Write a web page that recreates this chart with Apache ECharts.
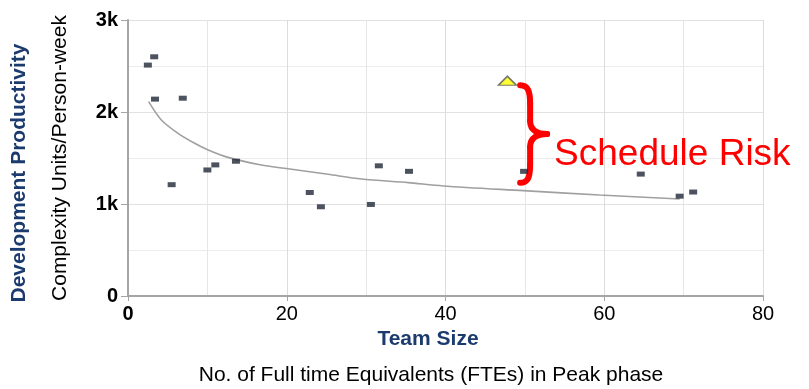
<!DOCTYPE html>
<html>
<head>
<meta charset="utf-8">
<script src="https://cdn.jsdelivr.net/npm/echarts@6/dist/echarts.min.js"></script>
<style>
html,body{margin:0;padding:0;background:#fff;}
#chart{width:809px;height:389px;}
</style>
</head>
<body>
<div id="chart"></div>
<script>
// Observed projects: team size (FTEs) vs productivity
const teamSize = [2.5, 3.3, 3.4, 6.9, 5.5, 10.0, 11.0, 13.6, 22.9, 24.3, 30.6, 31.6, 35.4, 49.9, 64.6, 69.5, 71.2];
const productivity = [2510, 2600, 2140, 2150, 1210, 1370, 1425, 1465, 1125, 970, 995, 1415, 1355, 1355, 1325, 1085, 1130];
// Planned project (yellow triangle)
const plannedX = [47.8];
const plannedY = [2340];
// Trend curve
const trendX = [2.6, 4.2, 6.3, 8.4, 10.1, 12.6, 16.8, 19.7, 25.2, 29.4, 35.3, 39.7, 49.8, 59.4, 69.5];
const trendY = [2112, 1913, 1768, 1660, 1587, 1507, 1424, 1388, 1323, 1272, 1232, 1196, 1145, 1098, 1055];
// Brace span (data coords)
const braceX = 49.4;
const braceTop = 2290;
const braceBottom = 1230;
// Tick labels
const xTickLabels = {0: '{b|0}', 20: '20', 40: '40', 60: '60', 80: '80'};
const yTickLabels = {0: '0', 1000: '1k', 2000: '2k', 3000: '3k'};

const navy = '#1b3a6e';
const chart = echarts.init(document.getElementById('chart'));
const font = 'Liberation Sans, Arial, sans-serif';

chart.setOption({
  animation: false,
  grid: {left: 128, right: 46, top: 20, bottom: 93},
  xAxis: {
    type: 'value', min: 0, max: 80, interval: 20,
    axisLine: {show: true, lineStyle: {color: '#a5a5a5', width: 2}},
    axisTick: {show: true, length: 5, lineStyle: {color: '#a5a5a5'}},
    axisLabel: {
      color: '#000', fontSize: 20, fontFamily: font, margin: 8,
      formatter: v => xTickLabels[v] !== undefined ? xTickLabels[v] : '',
      rich: {b: {fontWeight: 'bold', fontSize: 20, fontFamily: font, color: '#000'}}
    },
    splitLine: {show: true, lineStyle: {color: '#dcdcdc', width: 1}},
    minorTick: {show: false, splitNumber: 2},
    minorSplitLine: {show: true, lineStyle: {color: '#e6e6e6', width: 1}}
  },
  yAxis: {
    type: 'value', min: 0, max: 3000, interval: 1000,
    axisLine: {show: true, lineStyle: {color: '#a5a5a5', width: 2}},
    axisTick: {show: true, length: 7, lineStyle: {color: '#a5a5a5'}},
    axisLabel: {
      color: '#000', fontSize: 20, fontWeight: 'bold', fontFamily: font, margin: 10,
      formatter: v => yTickLabels[v] !== undefined ? yTickLabels[v] : ''
    },
    splitLine: {show: true, lineStyle: {color: '#e2e2e2', width: 1}},
    minorTick: {show: false, splitNumber: 2},
    minorSplitLine: {show: true, lineStyle: {color: '#ececec', width: 1}}
  },
  series: [
    {
      type: 'line', data: trendX.map((x, i) => [x, trendY[i]]),
      smooth: 0.3, symbol: 'none', silent: true,
      lineStyle: {color: '#a0a0a0', width: 1.6}, z: 2
    },
    {
      type: 'scatter', data: teamSize.map((x, i) => [x, productivity[i]]),
      symbol: 'rect', symbolSize: [8, 5],
      itemStyle: {color: '#1f2836'}, z: 3
    },
    {
      type: 'scatter', data: plannedX.map((x, i) => [x, plannedY[i]]),
      symbol: 'triangle', symbolSize: [18, 9],
      itemStyle: {color: '#ffff00', borderColor: '#595959', borderWidth: 1.5}, z: 4
    }
  ]
});

const topPx = chart.convertToPixel({gridIndex: 0}, [braceX, braceTop]);
const botPx = chart.convertToPixel({gridIndex: 0}, [braceX, braceBottom]);
const x0 = topPx[0], t = topPx[1], b = botPx[1], m = (t + b) / 2;
const red = '#ff0000';
const bs = {stroke: red, lineWidth: 6, fill: null, lineCap: 'round'};
const s = 10, tip = 27;

chart.setOption({
  graphic: [
    {type: 'bezierCurve', shape: {x1: x0, y1: t, cpx1: x0 + 8, cpy1: t, cpx2: x0 + s, cpy2: t + 6, x2: x0 + s, y2: t + 18}, style: bs},
    {type: 'line', shape: {x1: x0 + s, y1: t + 18, x2: x0 + s, y2: m - 13}, style: bs},
    {type: 'bezierCurve', shape: {x1: x0 + s, y1: m - 13, cpx1: x0 + s, cpy1: m - 3, cpx2: x0 + 18, cpy2: m, x2: x0 + tip, y2: m}, style: bs},
    {type: 'bezierCurve', shape: {x1: x0 + tip, y1: m, cpx1: x0 + 18, cpy1: m, cpx2: x0 + s, cpy2: m + 3, x2: x0 + s, y2: m + 13}, style: bs},
    {type: 'line', shape: {x1: x0 + s, y1: m + 13, x2: x0 + s, y2: b - 18}, style: bs},
    {type: 'bezierCurve', shape: {x1: x0 + s, y1: b - 18, cpx1: x0 + s, cpy1: b - 6, cpx2: x0 + 8, cpy2: b, x2: x0, y2: b}, style: bs},
    {type: 'text', x: x0 + tip + 7, y: m + 21, style: {text: 'Schedule Risk', fill: red, font: '37px ' + font, textAlign: 'left', textVerticalAlign: 'middle'}},
    {type: 'text', x: 19, y: 173, rotation: Math.PI / 2, style: {text: 'Development Productivity', fill: navy, font: 'bold 21px ' + font, textAlign: 'center', textVerticalAlign: 'middle'}},
    {type: 'text', x: 60, y: 158, rotation: Math.PI / 2, style: {text: 'Complexity Units/Person-week', fill: '#000', font: '21px ' + font, textAlign: 'center', textVerticalAlign: 'middle'}},
    {type: 'text', x: 428, y: 339, style: {text: 'Team Size', fill: navy, font: 'bold 21px ' + font, textAlign: 'center', textVerticalAlign: 'middle'}},
    {type: 'text', x: 431, y: 375, style: {text: 'No. of Full time Equivalents (FTEs) in Peak phase', fill: '#000', font: '21px ' + font, textAlign: 'center', textVerticalAlign: 'middle'}}
  ]
});
</script>
</body>
</html>
